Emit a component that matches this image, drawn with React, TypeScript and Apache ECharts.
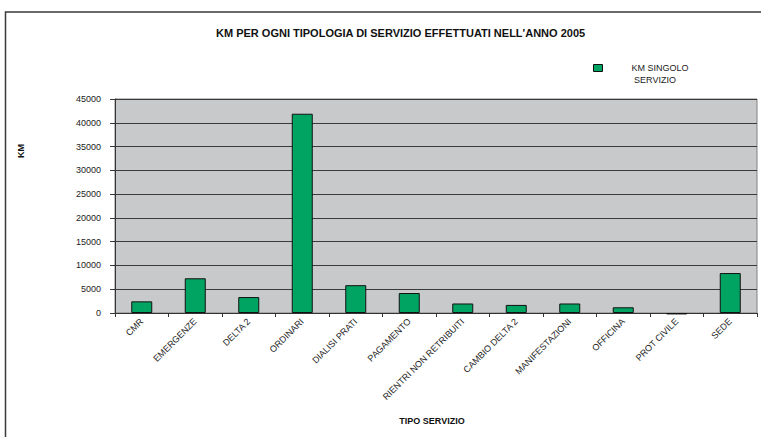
import React, { useEffect, useRef } from "react";
import * as echarts from "echarts";

const categories = [
  "CMR",
  "EMERGENZE",
  "DELTA 2",
  "ORDINARI",
  "DIALISI PRATI",
  "PAGAMENTO",
  "RIENTRI NON RETRIBUITI",
  "CAMBIO DELTA 2",
  "MANIFESTAZIONI",
  "OFFICINA",
  "PROT CIVILE",
  "SEDE",
];
const kmValues = [2450, 7300, 3350, 41900, 5850, 4200, 2000, 1700, 2000, 1200, -300, 8400];
const seriesName = "KM SINGOLO SERVIZIO";
const yTicks = { min: 0, max: 45000, interval: 5000 };

const FONT = "Liberation Sans, Arial, sans-serif";

export default function App() {
  const ref = useRef<HTMLDivElement>(null);
  useEffect(() => {
    if (!ref.current) return;
    const chart = echarts.init(ref.current, undefined, { renderer: "svg" });
    chart.setOption({
      animation: false,
      backgroundColor: "#ffffff",
      textStyle: { fontFamily: FONT },
      title: {
        text: "KM PER OGNI TIPOLOGIA DI SERVIZIO EFFETTUATI NELL'ANNO 2005",
        left: 211,
        top: 22,
        textStyle: { fontSize: 11, fontWeight: "bold", color: "#111", fontFamily: FONT },
      },
      legend: {
        left: 588,
        top: 57,
        itemWidth: 9,
        itemHeight: 7,
        icon: "rect",
        itemStyle: { borderColor: "#111", borderWidth: 1 },
        data: [seriesName],
        formatter: () => "{g|}{t|KM SINGOLO}",
        textStyle: {
          rich: {
            g: { width: 24 },
            t: { fontSize: 9, color: "#222", fontFamily: FONT },
          },
        },
      },
      grid: {
        left: 115,
        right: 4,
        top: 99,
        bottom: 124,
        show: true,
        backgroundColor: "#c8c9cb",
        borderColor: "#808080",
        borderWidth: 1,
      },
      xAxis: {
        type: "category",
        data: categories,
        boundaryGap: true,
        axisLine: { lineStyle: { color: "#333", width: 1 } },
        axisTick: { show: true, length: 4, lineStyle: { color: "#333" } },
        axisLabel: {
          rotate: 45,
          interval: 0,
          margin: 7,
          fontSize: 9,
          color: "#222",
          fontFamily: FONT,
        },
      },
      yAxis: {
        type: "value",
        min: yTicks.min,
        max: yTicks.max,
        interval: yTicks.interval,
        axisLine: { show: true, lineStyle: { color: "#333", width: 1 } },
        axisTick: { show: true, length: 5, lineStyle: { color: "#333" } },
        axisLabel: {
          fontSize: 9,
          color: "#222",
          margin: 14,
          fontFamily: FONT,
          formatter: (v: number) => String(v),
        },
        splitLine: { show: true, lineStyle: { color: "#3a3a3a", width: 1 } },
      },
      series: [
        {
          name: seriesName,
          type: "bar",
          data: kmValues,
          barWidth: 21,
          clip: false,
          itemStyle: { color: "#00a462", borderColor: "#111", borderWidth: 1 },
        },
      ],
      graphic: [
        {
          type: "rect",
          shape: { x: 5.5, y: 12, width: 800, height: 500 },
          style: { fill: "none", stroke: "#3a3a3a", lineWidth: 1.5 },
          silent: true,
        },
        {
          type: "text",
          x: 655,
          y: 80,
          style: {
            text: "SERVIZIO",
            fontSize: 9,
            fill: "#222",
            fontFamily: FONT,
            align: "center",
            verticalAlign: "middle",
          },
        },
        {
          type: "text",
          x: 21,
          y: 151,
          rotation: Math.PI / 2,
          style: {
            text: "KM",
            fontSize: 9,
            fontWeight: "bold",
            fill: "#111",
            fontFamily: FONT,
            align: "center",
            verticalAlign: "middle",
          },
        },
        {
          type: "text",
          x: 432,
          y: 421,
          style: {
            text: "TIPO SERVIZIO",
            fontSize: 9,
            fontWeight: "bold",
            fill: "#111",
            fontFamily: FONT,
            align: "center",
            verticalAlign: "middle",
          },
        },
      ],
    });
    return () => chart.dispose();
  }, []);
  return (
    <div
      ref={ref}
      style={{ position: "fixed", left: 0, top: 0, width: 761, height: 437 }}
    />
  );
}
